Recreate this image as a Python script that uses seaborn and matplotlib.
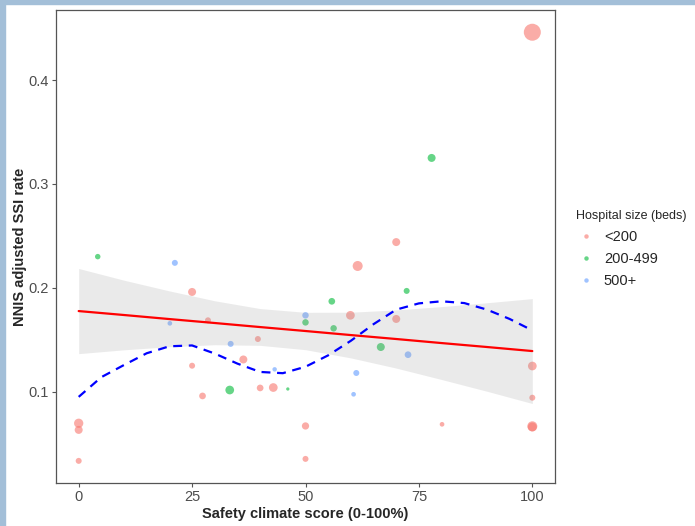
import matplotlib
matplotlib.use("Agg")
import matplotlib.pyplot as plt
from matplotlib.lines import Line2D
import seaborn as sns
import pandas as pd

# scatter data
safety_score = [100, 77.8, 70, 4.2, 21.2, 61.5, 25.0, 72.3, 55.8, 50, 59.9, 50, 20.1, 28.5,
                70, 56.2, 39.5, 33.5, 66.6, 72.6, 36.3, 25.0, 100, 43.2, 61.2, 40, 42.9,
                33.3, 46.1, 27.3, 60.6, 100, 0, 0, 50, 80.1, 100, 100, 0, 50]
ssi_rate = [0.446, 0.325, 0.244, 0.230, 0.224, 0.221, 0.196, 0.197, 0.187, 0.1735, 0.1735,
            0.1667, 0.1658, 0.1687, 0.170, 0.161, 0.1507, 0.146, 0.143, 0.1356, 0.131, 0.125,
            0.1247, 0.1215, 0.118, 0.1036, 0.104, 0.1016, 0.1026, 0.0959, 0.0975, 0.0942,
            0.0696, 0.0632, 0.067, 0.0686, 0.0667, 0.0660, 0.0334, 0.0353]
hosp_size = ["<200", "200-499", "<200", "200-499", "500+", "<200", "<200", "200-499",
             "200-499", "500+", "<200", "200-499", "500+", "<200", "<200", "200-499",
             "<200", "500+", "200-499", "500+", "<200", "<200", "<200", "500+", "500+",
             "<200", "<200", "200-499", "200-499", "<200", "500+", "<200", "<200", "<200",
             "<200", "<200", "<200", "<200", "<200", "<200"]
volume = [289, 64, 64, 30, 36, 100, 64, 36, 45, 42, 76, 42, 22, 36, 64, 42, 36, 36, 64, 45,
          64, 36, 76, 20, 36, 45, 76, 76, 11, 45, 22, 36, 86, 64, 53, 22, 100, 81, 36, 36]

size_levels = ["<200", "200-499", "500+"]

# linear fit with 95% band
fit_x = [0, 10, 20, 30, 40, 50, 60, 70, 80, 90, 100]
fit_mid = [0.1776, 0.1738, 0.1699, 0.1661, 0.1622, 0.1584, 0.1545, 0.1507, 0.1468, 0.1430, 0.1391]
fit_lo = [0.1366, 0.1403, 0.1433, 0.1452, 0.1446, 0.1404, 0.1325, 0.1227, 0.1117, 0.1004, 0.0886]
fit_hi = [0.2186, 0.2073, 0.1970, 0.1875, 0.1800, 0.1764, 0.1765, 0.1787, 0.1819, 0.1856, 0.1896]

# dashed smooth curve
smooth_x = [0, 5, 10, 15, 20, 25, 30, 35, 40, 45, 50, 55, 60, 65, 70, 75, 80, 85, 90, 95, 100]
smooth_y = [0.095, 0.114, 0.1257, 0.137, 0.1437, 0.1445, 0.1367, 0.127, 0.119, 0.1178, 0.124,
            0.135, 0.149, 0.165, 0.179, 0.185, 0.187, 0.1853, 0.179, 0.170, 0.159]

df = pd.DataFrame({"score": safety_score, "rate": ssi_rate,
                   "size": hosp_size, "volume": volume})
fit_df = pd.DataFrame({"x": fit_x, "mid": fit_mid, "lo": fit_lo, "hi": fit_hi})
smooth_df = pd.DataFrame({"x": smooth_x, "y": smooth_y})

sns.set_style("white")
plt.rcParams["font.family"] = ["Liberation Sans", "DejaVu Sans"]

colors = {"<200": "#F8766D", "200-499": "#00BA38", "500+": "#619CFF"}

fig = plt.figure(figsize=(6.95, 5.26), dpi=100)
ax = fig.add_axes([56 / 695, 1 - 483 / 526, 499 / 695, 473 / 526])

sns.scatterplot(data=df, x="score", y="rate", hue="size", hue_order=size_levels,
                palette=colors, size="volume", sizes=(5.6, 150), alpha=0.6,
                linewidth=0, legend=False, ax=ax, zorder=2)

ax.fill_between(fit_df["x"], fit_df["lo"], fit_df["hi"], color="#999999", alpha=0.2,
                linewidth=0, zorder=3)
sns.lineplot(data=fit_df, x="x", y="mid", color="red", linewidth=1.6, ax=ax, zorder=4)
sns.lineplot(data=smooth_df, x="x", y="y", color="blue", linewidth=1.6, ax=ax, zorder=5,
             dashes=False)
ax.lines[-1].set_dashes([4, 3])

ax.set_xlim(-5, 105)
ax.set_ylim(0.0121, 0.4674)
ax.set_xticks([0, 25, 50, 75, 100])
ax.set_yticks([0.1, 0.2, 0.3, 0.4])
ax.set_yticklabels(["0.1", "0.2", "0.3", "0.4"])

for s in ax.spines.values():
    s.set_color("#555555")
    s.set_linewidth(0.9)
ax.tick_params(axis="both", length=3, width=0.8, color="#555555",
               labelsize=10.5, labelcolor="#4D4D4D", pad=2, left=True, bottom=True)

ax.set_xlabel("Safety climate score (0-100%)", fontsize=10.5, fontweight="bold", labelpad=2)
ax.set_ylabel("NNIS adjusted SSI rate", fontsize=10.5, fontweight="bold", labelpad=1)

handles = [Line2D([], [], marker="o", linestyle="", markersize=3.2, markeredgewidth=0,
                  markerfacecolor=colors[k], alpha=0.6, label=k) for k in size_levels]
leg = fig.legend(handles=handles, title="Hospital size (beds)", loc="upper left",
                 bbox_to_anchor=(566 / 695, 1 - 200 / 526), frameon=False,
                 fontsize=10.5, title_fontsize=9, labelspacing=0.55,
                 handletextpad=0.5, handlelength=1.4, borderpad=0.2)
leg._legend_box.align = "left"

# light blue frame on the left and top edges
fig.add_artist(plt.Rectangle((0, 0), 5 / 695, 1, transform=fig.transFigure,
                             color="#A3BFD8", zorder=10))
fig.add_artist(plt.Rectangle((0, 1 - 4 / 526), 1, 4 / 526, transform=fig.transFigure,
                             color="#A3BFD8", zorder=10))

fig.savefig("out.png", dpi=100)
plt.close()
